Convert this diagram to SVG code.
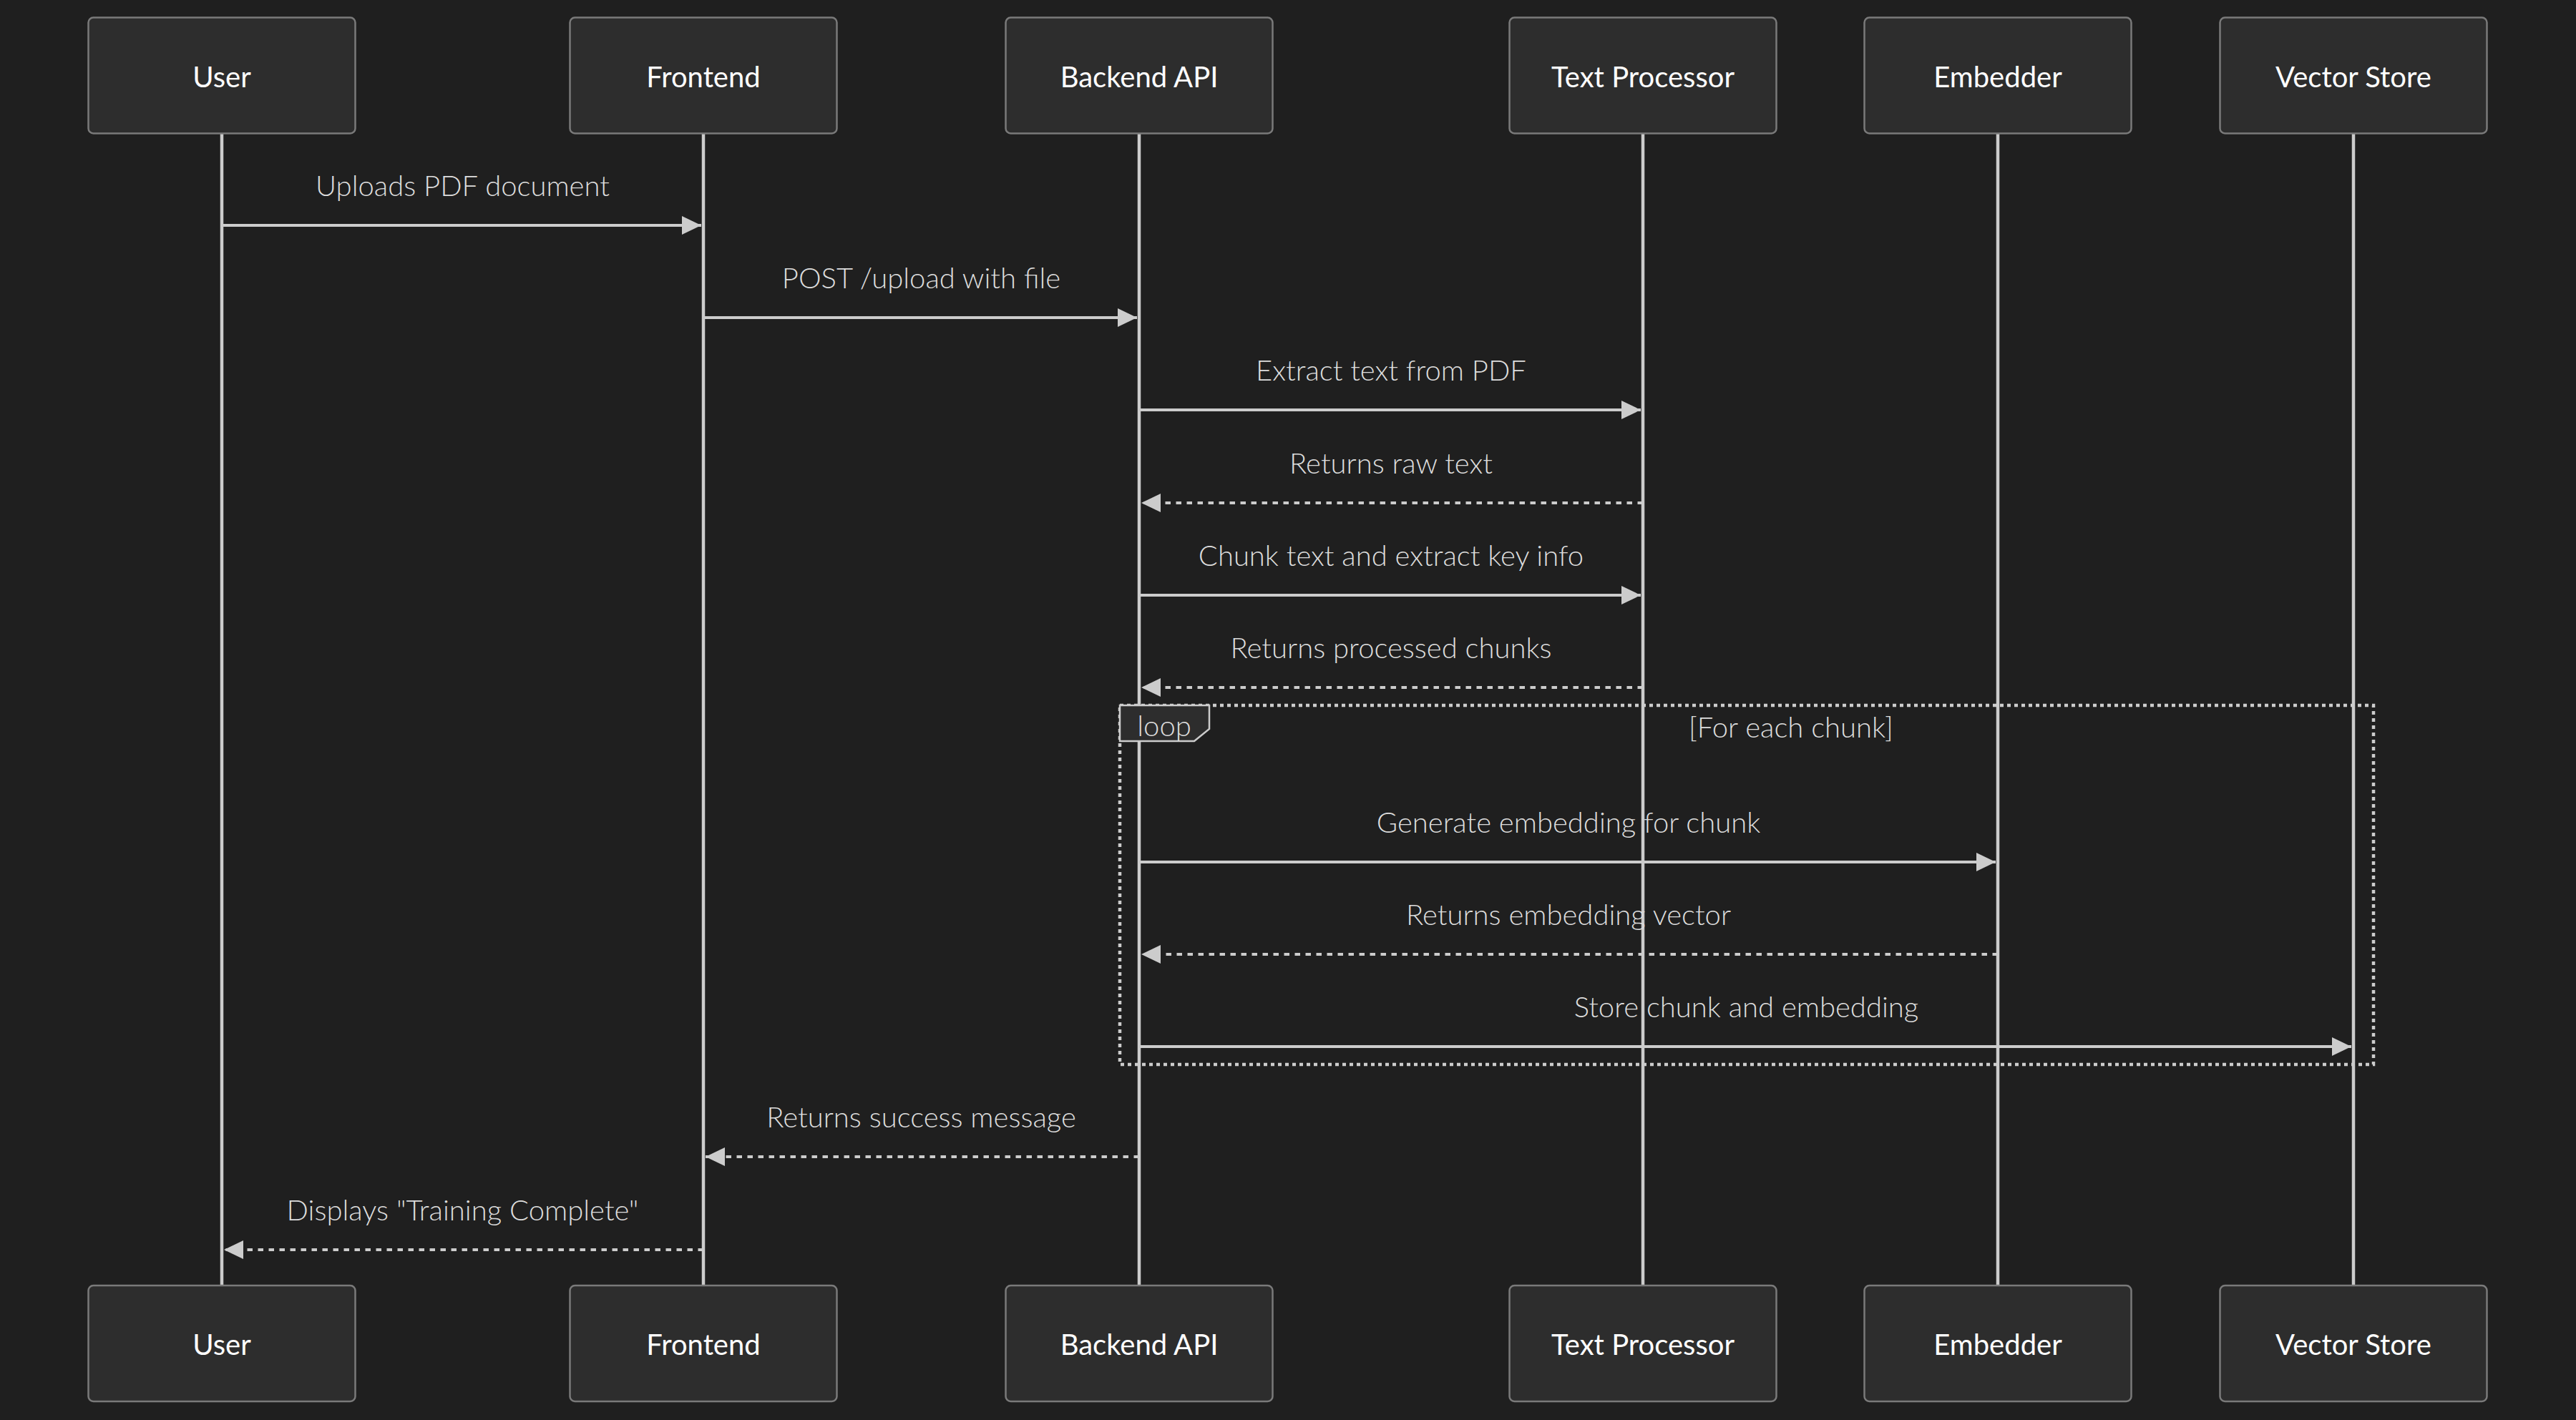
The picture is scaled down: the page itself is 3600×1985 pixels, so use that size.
<svg xmlns="http://www.w3.org/2000/svg" width="3600" height="1985" viewBox="0 0 3600 1985">
  <style>
    .actor rect { fill: #2d2d2d; stroke: #7a7a7a; stroke-width: 2.5; }
    .actor text { fill: #ffffff; font-family: Lato, "Open Sans", "Liberation Sans", sans-serif; font-size: 40px; text-anchor: middle; }
    .lifeline { stroke: #cccccc; stroke-width: 4.5; }
    .msg { stroke: #cccccc; stroke-width: 4; fill: none; }
    .ret { stroke-dasharray: 7.5 7.5; }
    .label { fill: #dddddd; font-family: Lato, "Open Sans", "Liberation Sans", sans-serif; font-size: 40px; font-weight: 300; text-anchor: middle; }
    .loop-frame { fill: none; stroke: #cccccc; stroke-width: 4.5; stroke-dasharray: 5 5; }
    .loop-tag { fill: #2d2d2d; stroke: #cccccc; stroke-width: 2.5; }
  </style>
  <defs>
    <marker id="head" viewBox="0 0 27 26" refX="27" refY="13" markerWidth="27" markerHeight="26" markerUnits="userSpaceOnUse" orient="auto">
      <path d="M0,0 L27,13 L0,26 z" fill="#cccccc"/>
    </marker>
  </defs>

  <rect width="3600" height="1985" fill="#1f1f1f"/>

  <!-- lifelines -->
  <g id="lifelines">
    <line class="lifeline" x1="310" y1="186" x2="310" y2="1797"/>
    <line class="lifeline" x1="983" y1="186" x2="983" y2="1797"/>
    <line class="lifeline" x1="1592" y1="186" x2="1592" y2="1797"/>
    <line class="lifeline" x1="2296" y1="186" x2="2296" y2="1797"/>
    <line class="lifeline" x1="2792" y1="186" x2="2792" y2="1797"/>
    <line class="lifeline" x1="3289" y1="186" x2="3289" y2="1797"/>
  </g>

  <!-- participants, top and bottom -->
  <g id="user" class="actor">
    <rect x="123.5" y="24.5" width="373" height="162" rx="7"/>
    <text x="310" y="122">User</text>
    <rect x="123.5" y="1797" width="373" height="162" rx="7"/>
    <text x="310" y="1894">User</text>
  </g>
  <g id="frontend" class="actor">
    <rect x="796.5" y="24.5" width="373" height="162" rx="7"/>
    <text x="983" y="122">Frontend</text>
    <rect x="796.5" y="1797" width="373" height="162" rx="7"/>
    <text x="983" y="1894">Frontend</text>
  </g>
  <g id="backend-api" class="actor">
    <rect x="1405.5" y="24.5" width="373" height="162" rx="7"/>
    <text x="1592" y="122">Backend API</text>
    <rect x="1405.5" y="1797" width="373" height="162" rx="7"/>
    <text x="1592" y="1894">Backend API</text>
  </g>
  <g id="text-processor" class="actor">
    <rect x="2109.5" y="24.5" width="373" height="162" rx="7"/>
    <text x="2296" y="122">Text Processor</text>
    <rect x="2109.5" y="1797" width="373" height="162" rx="7"/>
    <text x="2296" y="1894">Text Processor</text>
  </g>
  <g id="embedder" class="actor">
    <rect x="2605.5" y="24.5" width="373" height="162" rx="7"/>
    <text x="2792" y="122">Embedder</text>
    <rect x="2605.5" y="1797" width="373" height="162" rx="7"/>
    <text x="2792" y="1894">Embedder</text>
  </g>
  <g id="vector-store" class="actor">
    <rect x="3102.5" y="24.5" width="373" height="162" rx="7"/>
    <text x="3289" y="122">Vector Store</text>
    <rect x="3102.5" y="1797" width="373" height="162" rx="7"/>
    <text x="3289" y="1894">Vector Store</text>
  </g>

  <!-- loop fragment -->
  <g id="loop">
    <rect class="loop-frame" x="1565" y="986" width="1752" height="502"/>
    <polygon class="loop-tag" points="1565,986 1690,986 1690,1019 1669,1036 1565,1036"/>
    <text class="label" x="1627" y="1029">loop</text>
    <text class="label" x="2503" y="1031">[For each chunk]</text>
  </g>

  <!-- messages -->
  <g id="connectors">
    <line class="msg" x1="310" y1="315" x2="980" y2="315" marker-end="url(#head)"/>
    <line class="msg" x1="983" y1="444" x2="1589" y2="444" marker-end="url(#head)"/>
    <line class="msg" x1="1592" y1="573" x2="2293" y2="573" marker-end="url(#head)"/>
    <line class="msg ret" x1="2296" y1="703" x2="1595" y2="703" marker-end="url(#head)"/>
    <line class="msg" x1="1592" y1="832" x2="2293" y2="832" marker-end="url(#head)"/>
    <line class="msg ret" x1="2296" y1="961" x2="1595" y2="961" marker-end="url(#head)"/>
    <line class="msg" x1="1592" y1="1205" x2="2789" y2="1205" marker-end="url(#head)"/>
    <line class="msg ret" x1="2792" y1="1334" x2="1595" y2="1334" marker-end="url(#head)"/>
    <line class="msg" x1="1592" y1="1463" x2="3286" y2="1463" marker-end="url(#head)"/>
    <line class="msg ret" x1="1592" y1="1617" x2="986" y2="1617" marker-end="url(#head)"/>
    <line class="msg ret" x1="983" y1="1747" x2="313" y2="1747" marker-end="url(#head)"/>
  </g>

  <!-- message labels -->
  <g id="message-labels">
    <text class="label" x="646.5" y="274">Uploads PDF document</text>
    <text class="label" x="1287.5" y="403">POST /upload with file</text>
    <text class="label" x="1944" y="532">Extract text from PDF</text>
    <text class="label" x="1944" y="662">Returns raw text</text>
    <text class="label" x="1944" y="791">Chunk text and extract key info</text>
    <text class="label" x="1944" y="920">Returns processed chunks</text>
    <text class="label" x="2192" y="1164">Generate embedding for chunk</text>
    <text class="label" x="2192" y="1293">Returns embedding vector</text>
    <text class="label" x="2440.5" y="1422">Store chunk and embedding</text>
    <text class="label" x="1287.5" y="1576">Returns success message</text>
    <text class="label" x="646.5" y="1706">Displays "Training Complete"</text>
  </g>
</svg>
